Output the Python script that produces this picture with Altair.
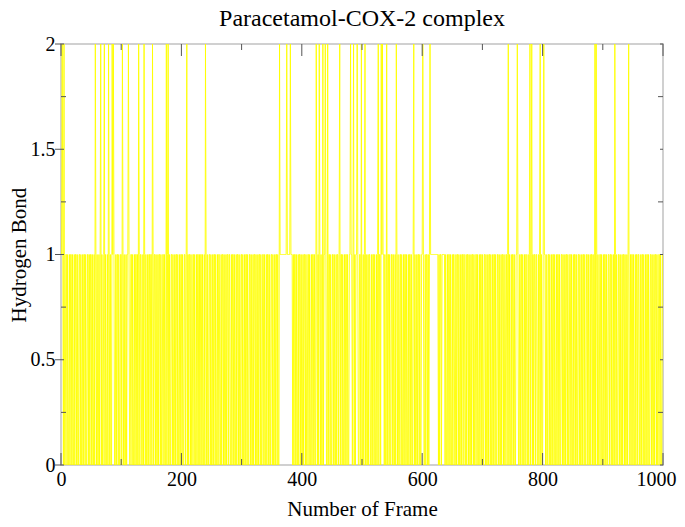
import altair as alt
import pandas as pd

# Hydrogen-bond count per frame (0/1 background pattern)
pattern_lines = [
    "1111010011 0100101101 0010110100 1101001011 0100110101 1010010110 1001011010 0110100101 1010011010 0101101001",
    "1011010010 1101001101 0010110100 1011001011 0100101101 1001011010 0101101001 1010010110 1001101001 0110100101",
    "1010011010 0101101001 1010010110 1011010010 1101001101 0010110100 1011001011 0100101101 1001011010 0101101001",
    "1010010110 1001101001 0110100101 1010011010 0101101001 1010010110 1001111111 1111111111 1111101011 0100101101",
    "0010110100 1101001011 0100110101 1010010110 1001011010 0110100101 1010011010 0101101001 1011010010 1101001101",
    "0010110100 1011001011 0100101101 1001011010 0101101001 1010010110 1001101001 0110100101 1010011010 0101101001",
    "1010010110 1011111111 1111111010 1101111101 0010110100 1011001011 0100101101 1001011010 0101101001 1010010110",
    "1001101001 0110100101 1010011010 0101101001 1011010010 1101001101 0010110100 1011001011 0100101101 1001011010",
    "0101101001 1010010110 1001011010 0110100101 1010011010 0101101001 1010010110 1001101001 0110100101 1010011010",
    "0101101001 1011010010 1101001101 0010110100 1011001011 0100101101 1001011010 0101101001 1010010110 1001101001",
    "1",
]
# frames where two hydrogen bonds are formed (spikes to 2)
two_bond_frames = [2, 5, 57, 66, 72, 79, 85, 87, 102, 112, 129, 138, 152, 175, 178,
                   209, 240, 363, 375, 381, 424, 429, 435, 439, 443, 463, 481, 486,
                   492, 499, 505, 527, 532, 534, 541, 557, 586, 601, 613, 743, 758,
                   779, 782, 796, 802, 887, 889, 920, 943]

x_major = [0, 200, 400, 600, 800, 1000]
x_minor = [100, 300, 500, 700, 900]
y_major = [0, 0.5, 1, 1.5, 2]
y_minor = [0.25, 0.75, 1.25, 1.75]

digits = "".join(pattern_lines).replace(" ", "")
hbond = [int(c) for c in digits]
for f in two_bond_frames:
    hbond[f] = 2
frames = list(range(len(hbond)))
df = pd.DataFrame({"frame": frames, "hbond": hbond})

W, H = 602, 421
FONT = "Liberation Serif"
TICK = "#555555"

xs = alt.Scale(domain=[0, 1000], nice=False, zero=False)
ys = alt.Scale(domain=[0, 2], nice=False, zero=False)

last_x = "datum.value === 1000"
xaxis = alt.Axis(values=x_major, title="Number of Frame", ticks=False, domain=False,
                 grid=False, labelFlush=False, labelOverlap=False, labelPadding=4,
                 titlePadding=9, format="d",
                 labelAlign={"condition": {"test": last_x, "value": "right"}, "value": "center"},
                 labelOffset={"condition": {"test": last_x, "value": 13}, "value": 0})
yaxis = alt.Axis(values=y_major, title="Hydrogen Bond", ticks=False, domain=False,
                 grid=False, labelOverlap=False, labelPadding=6, titlePadding=1,
                 format="~g")

line = alt.Chart(df).mark_line(color="#ffff00", strokeWidth=0.9, clip=True).encode(
    x=alt.X("frame:Q", scale=xs, axis=xaxis),
    y=alt.Y("hbond:Q", scale=ys, axis=yaxis),
)

xmaj = pd.DataFrame({"frame": x_major})
xmin = pd.DataFrame({"frame": x_minor})
ymaj = pd.DataFrame({"hbond": y_major})
ymin = pd.DataFrame({"hbond": y_minor})

def xticks(d, length):
    bottom = alt.Chart(d).mark_rule(color=TICK, strokeWidth=1).encode(
        x=alt.X("frame:Q", scale=xs, axis=xaxis), y=alt.value(H), y2=alt.value(H - length))
    top = alt.Chart(d).mark_rule(color=TICK, strokeWidth=1).encode(
        x=alt.X("frame:Q", scale=xs, axis=xaxis), y=alt.value(0), y2=alt.value(length))
    return bottom + top

def yticks(d, length, left_out=0):
    left = alt.Chart(d).mark_rule(color=TICK, strokeWidth=1).encode(
        y=alt.Y("hbond:Q", scale=ys, axis=yaxis), x=alt.value(-left_out), x2=alt.value(length))
    right = alt.Chart(d).mark_rule(color=TICK, strokeWidth=1).encode(
        y=alt.Y("hbond:Q", scale=ys, axis=yaxis), x=alt.value(W), x2=alt.value(W - length))
    return left + right

chart = alt.layer(
    line,
    xticks(xmaj, 12), xticks(xmin, 6),
    yticks(ymaj, 3, 6), yticks(ymin, 5),
).properties(
    width=W, height=H,
    title=alt.TitleParams("Paracetamol-COX-2 complex", font=FONT, fontSize=24,
                          fontWeight="normal", color="black", offset=3, frame="group"),
    autosize=alt.AutoSizeParams(type="none"),
    padding={"left": 53, "top": 36, "right": 14, "bottom": 54},
).configure_view(
    stroke="#d0d0d0", strokeWidth=2
).configure_axis(
    labelFont=FONT, labelFontSize=20, labelColor="black",
    titleFont=FONT, titleFontSize=21, titleFontWeight="normal", titleColor="black",
)

chart.save("out.html", embed_options={"renderer": "svg", "actions": False})
